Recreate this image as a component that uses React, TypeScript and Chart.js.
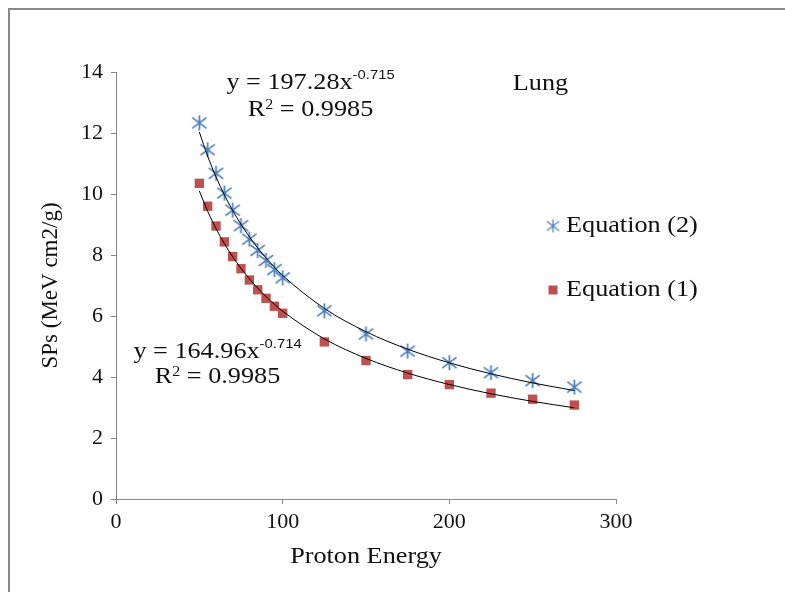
import React, { useEffect, useRef } from "react";
import { Chart, registerables } from "chart.js";

Chart.register(...registerables);

// ---- data ----
const ENERGY = [50, 55, 60, 65, 70, 75, 80, 85, 90, 95, 100, 125, 150, 175, 200, 225, 250, 275];
const SP_EQ2 = [12.33, 11.45, 10.68, 10.03, 9.47, 8.96, 8.52, 8.15, 7.82, 7.52, 7.25, 6.17, 5.41, 4.85, 4.47, 4.14, 3.88, 3.67];
const SP_EQ1 = [10.35, 9.6, 8.95, 8.43, 7.95, 7.55, 7.18, 6.86, 6.58, 6.32, 6.09, 5.15, 4.54, 4.08, 3.75, 3.47, 3.27, 3.08];
const FIT_EQ2 = { a: 197.28, b: -0.715, r2: "0.9985" };
const FIT_EQ1 = { a: 164.96, b: -0.714, r2: "0.9985" };
const X_TICKS = [0, 100, 200, 300];
const Y_TICKS = [0, 2, 4, 6, 8, 10, 12, 14];
const SERIES_LABELS = ["Equation (2)", "Equation (1)"];
const X_TITLE = "Proton Energy";
const Y_TITLE = "SPs (MeV cm2/g)";
const TISSUE = "Lung";

// ---- styles ----
const SERIF = '"Liberation Serif", "Times New Roman", serif';
const SANS = '"Liberation Sans", Arial, sans-serif';
const BLUE = "#4A7EBB";
const RED = "#C0504D";
const AXIS = "#868686";
const TEXT = "#111111";
const SX = 1.14; // horizontal text stretch seen in the reference

function makeStar(size: number, color: string, lw: number) {
  const c = document.createElement("canvas");
  c.width = size;
  c.height = size;
  const g = c.getContext("2d")!;
  g.strokeStyle = color;
  g.lineWidth = lw;
  const h = size / 2;
  const r = size / 2 - 1;
  g.beginPath();
  g.moveTo(h, h - r);
  g.lineTo(h, h + r);
  g.moveTo(h - r * 0.95, h - r * 0.72);
  g.lineTo(h + r * 0.95, h + r * 0.72);
  g.moveTo(h + r * 0.95, h - r * 0.72);
  g.lineTo(h - r * 0.95, h + r * 0.72);
  g.stroke();
  return c;
}

function fitLine(fit: { a: number; b: number }) {
  return ENERGY.map((x) => ({ x, y: fit.a * Math.pow(x, fit.b) }));
}

type Part = { text: string; font: string; dy: number };

// draws a run of text parts, horizontally stretched, centred on (cx, cy)
function drawRun(ctx: CanvasRenderingContext2D, cx: number, cy: number, parts: Part[], sx = SX, align: "center" | "left" = "center") {
  let total = 0;
  const widths = parts.map((p) => {
    ctx.font = p.font;
    const w = ctx.measureText(p.text).width;
    total += w;
    return w;
  });
  ctx.save();
  ctx.translate(cx, cy);
  ctx.scale(sx, 1);
  ctx.textAlign = "left";
  ctx.textBaseline = "middle";
  ctx.fillStyle = TEXT;
  let x = align === "center" ? -total / 2 : 0;
  parts.forEach((p, i) => {
    ctx.font = p.font;
    ctx.fillText(p.text, x, p.dy);
    x += widths[i];
  });
  ctx.restore();
}

const F_MAIN = `23px ${SERIF}`;
const F_SUP = `13px ${SANS}`;
const F_SUP_SERIF = `14px ${SERIF}`;

function equationParts(fit: { a: number; b: number }): Part[] {
  return [
    { text: `y = ${fit.a}x`, font: F_MAIN, dy: 0 },
    { text: `${fit.b}`, font: F_SUP, dy: -8 },
  ];
}
function r2Parts(fit: { r2: string }): Part[] {
  return [
    { text: "R", font: F_MAIN, dy: 0 },
    { text: "2", font: F_SUP_SERIF, dy: -5 },
    { text: ` = ${fit.r2}`, font: F_MAIN, dy: 0 },
  ];
}

export default function App() {
  const ref = useRef<HTMLCanvasElement>(null);

  useEffect(() => {
    if (!ref.current) return;
    const star = makeStar(17, BLUE, 1.7);
    const legendStar = makeStar(15, BLUE, 1.2);

    const annotations = {
      id: "annotations",
      afterDraw(chart: any) {
        const ctx: CanvasRenderingContext2D = chart.ctx;
        const area = chart.chartArea;
        drawRun(ctx, 300.5, 73, equationParts(FIT_EQ2));
        drawRun(ctx, 300.5, 100, r2Parts(FIT_EQ2));
        drawRun(ctx, 207.5, 342, equationParts(FIT_EQ1));
        drawRun(ctx, 207.5, 367, r2Parts(FIT_EQ1));
        drawRun(ctx, 530.5, 74, [{ text: TISSUE, font: F_MAIN, dy: 0 }]);
        // x axis title
        drawRun(ctx, (area.left + area.right) / 2, 547, [{ text: X_TITLE, font: F_MAIN, dy: 0 }]);
        // legend
        ctx.drawImage(legendStar, 543 - 7.5, 216 - 7.5);
        drawRun(ctx, 556, 216, [{ text: SERIES_LABELS[0], font: F_MAIN, dy: 0 }], SX, "left");
        ctx.save();
        ctx.fillStyle = RED;
        ctx.fillRect(543 - 4.5, 280 - 4.5, 9, 9);
        ctx.restore();
        drawRun(ctx, 556, 280, [{ text: SERIES_LABELS[1], font: F_MAIN, dy: 0 }], SX, "left");
      },
    };

    const chart = new Chart(ref.current, {
      type: "scatter",
      data: {
        datasets: [
          {
            label: "fit2",
            data: fitLine(FIT_EQ2),
            showLine: true,
            borderColor: "#000000",
            borderWidth: 1,
            pointRadius: 0,
            cubicInterpolationMode: "monotone",
            order: 0,
          },
          {
            label: "fit1",
            data: fitLine(FIT_EQ1),
            showLine: true,
            borderColor: "#000000",
            borderWidth: 1,
            pointRadius: 0,
            cubicInterpolationMode: "monotone",
            order: 0,
          },
          {
            label: SERIES_LABELS[0],
            data: ENERGY.map((x, i) => ({ x, y: SP_EQ2[i] })),
            pointStyle: star as any,
            pointRadius: 8,
            order: 1,
          },
          {
            label: SERIES_LABELS[1],
            data: ENERGY.map((x, i) => ({ x, y: SP_EQ1[i] })),
            pointStyle: "rect",
            pointRadius: 6.6,
            backgroundColor: RED,
            borderWidth: 0,
            order: 1,
          },
        ],
      },
      options: {
        animation: false,
        responsive: false,
        devicePixelRatio: 1,
        layout: { padding: { left: 0, top: 62, right: 169, bottom: 0 } },
        plugins: { legend: { display: false }, tooltip: { enabled: false } },
        scales: {
          x: {
            type: "linear",
            min: X_TICKS[0],
            max: X_TICKS[X_TICKS.length - 1],
            afterBuildTicks: (s: any) => {
              s.ticks = X_TICKS.map((v) => ({ value: v }));
            },
            afterFit: (s: any) => {
              s.height = 93;
            },
            grid: { drawOnChartArea: false, drawTicks: true, tickLength: 5, color: AXIS },
            border: { display: true, color: AXIS, width: 1 },
            ticks: { color: TEXT, font: { family: SERIF, size: 22 }, padding: 5 },
            title: { display: false, text: X_TITLE },
          },
          y: {
            type: "linear",
            min: Y_TICKS[0],
            max: Y_TICKS[Y_TICKS.length - 1],
            afterBuildTicks: (s: any) => {
              s.ticks = Y_TICKS.map((v) => ({ value: v }));
            },
            afterFit: (s: any) => {
              s.width = 106;
            },
            grid: { drawOnChartArea: false, drawTicks: true, tickLength: 5, color: AXIS },
            border: { display: true, color: AXIS, width: 1 },
            ticks: { color: TEXT, font: { family: SERIF, size: 22 }, padding: 8 },
            title: {
              display: true,
              text: Y_TITLE,
              color: TEXT,
              font: { family: SERIF, size: 23 },
              padding: { top: 27, bottom: 0 },
            },
          },
        },
      },
      plugins: [annotations],
    } as any);
    return () => chart.destroy();
  }, []);

  return (
    <div
      style={{
        position: "fixed",
        left: 8,
        top: 8,
        width: 777,
        height: 584,
        borderLeft: "2px solid #8a8a8a",
        borderTop: "2px solid #8a8a8a",
        background: "#ffffff",
        boxSizing: "border-box",
      }}
    >
      <canvas ref={ref} width={775} height={582} style={{ display: "block" }} />
    </div>
  );
}
